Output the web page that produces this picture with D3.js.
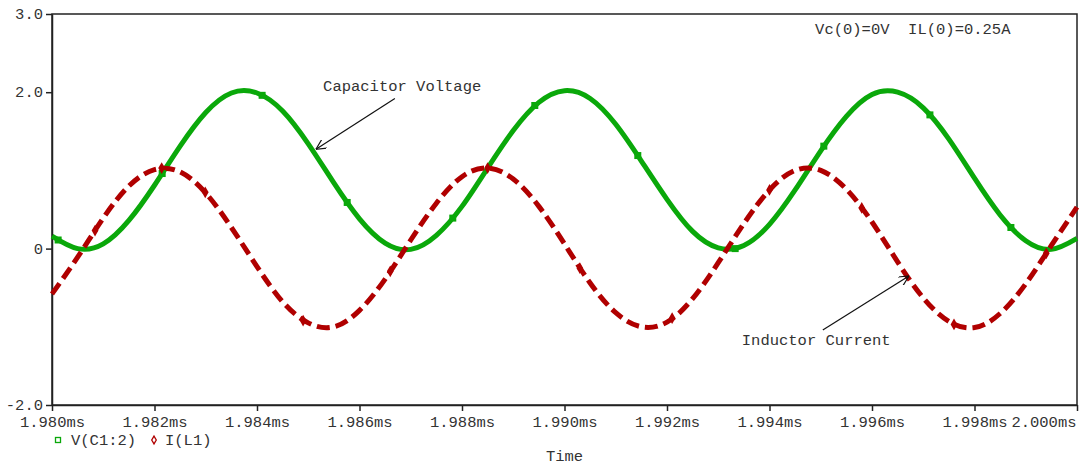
<!DOCTYPE html>
<html>
<head>
<meta charset="utf-8">
<script src="https://cdn.jsdelivr.net/npm/d3@7"></script>
<style>
    body { margin: 0; background: #fff; }
    svg text { font-family: "Liberation Mono", "DejaVu Sans Mono", monospace; font-size: 15.5px; fill: #333; white-space: pre; }
</style>
</head>
<body>
<div id="chart"></div>
<script>
/*
    LC tank transient: capacitor voltage and inductor current (PSpice style plot)
 */

// sample times in ms
var times = [1.9800, 1.9805, 1.9810, 1.9815, 1.9820, 1.9825, 1.9830, 1.9835, 1.9840, 1.9845,
    1.9850, 1.9855, 1.9860, 1.9865, 1.9870, 1.9875, 1.9880, 1.9885, 1.9890, 1.9895,
    1.9900, 1.9905, 1.9910, 1.9915, 1.9920, 1.9925, 1.9930, 1.9935, 1.9940, 1.9945,
    1.9950, 1.9955, 1.9960, 1.9965, 1.9970, 1.9975, 1.9980, 1.9985, 1.9990, 1.9995, 2.0000];

// V(C1:2)
var capVoltage = [0.16, 0.00, 0.06, 0.36, 0.81, 1.31, 1.74, 1.99, 1.99, 1.76,
    1.34, 0.84, 0.38, 0.07, -0.01, 0.17, 0.54, 1.03, 1.51, 1.87,
    2.02, 1.92, 1.59, 1.12, 0.63, 0.22, 0.01, 0.04, 0.31, 0.75,
    1.25, 1.69, 1.97, 2.00, 1.80, 1.40, 0.90, 0.43, 0.10, -0.01, 0.13];

// I(L1)
var indCurrent = [-0.58, -0.11, 0.39, 0.80, 1.01, 0.98, 0.71, 0.27, -0.23, -0.68,
    -0.95, -1.00, -0.79, -0.39, 0.11, 0.58, 0.92, 1.03, 0.89, 0.54,
    0.06, -0.44, -0.82, -1.00, -0.94, -0.64, -0.18, 0.32, 0.75, 1.00,
    1.00, 0.76, 0.34, -0.17, -0.63, -0.93, -1.01, -0.83, -0.45, 0.04, 0.53];

// simulation points marked on the traces
var vMarkTimes = [1.98012, 1.98215, 1.98410, 1.98576, 1.98782, 1.98942, 1.99143, 1.99333, 1.99506, 1.99713, 1.99871];
var vMarkValues = [0.11, 0.96, 1.96, 0.59, 0.39, 1.83, 1.19, 0.00, 1.31, 1.71, 0.27];
var iMarkTimes = [1.98084, 1.98214, 1.98299, 1.98490, 1.98660, 1.98850, 1.99030, 1.99210, 1.99400, 1.99580, 1.99760, 1.99940];
var iMarkValues = [0.23, 1.03, 0.72, -0.92, -0.29, 1.03, -0.25, -0.89, 0.75, 0.52, -0.97, -0.06];

var xTicks = [1.980, 1.982, 1.984, 1.986, 1.988, 1.990, 1.992, 1.994, 1.996, 1.998, 2.000];
var yTicks = [3.0, 2.0, 0, -2.0];
var yTickLabels = ["3.0", "2.0", "0", "-2.0"];

class LCPlot {
    constructor() {
        var self = this;
        self.width = 1081;
        self.height = 468;
        self.margin = {top: 14, right: 4, bottom: 63, left: 52};
        self.init();
    }

    init() {
        var self = this;
        self.plotW = self.width - self.margin.left - self.margin.right;
        self.plotH = self.height - self.margin.top - self.margin.bottom;

        self.svg = d3.select("#chart").append("svg")
            .attr("width", self.width)
            .attr("height", self.height);

        self.xScale = d3.scaleLinear()
            .domain([1.980, 2.000])
            .range([self.margin.left, self.margin.left + self.plotW]);

        self.yScale = d3.scaleLinear()
            .domain([-2, 3])
            .range([self.margin.top + self.plotH, self.margin.top]);

        // arrow head for the annotations
        self.svg.append("defs").append("marker")
            .attr("id", "arrow")
            .attr("viewBox", "0 0 10 10")
            .attr("refX", 10)
            .attr("refY", 5)
            .attr("markerWidth", 10)
            .attr("markerHeight", 10)
            .attr("markerUnits", "userSpaceOnUse")
            .attr("orient", "auto")
            .append("path")
            .attr("d", "M0,0 L10,5 L0,10")
            .attr("fill", "none")
            .attr("stroke", "#111")
            .attr("stroke-width", 1.2);

        self.drawAxes();
        self.drawTraces();
        self.drawText();
    }

    drawAxes() {
        var self = this;

        var xAxis = d3.axisBottom(self.xScale)
            .tickValues(xTicks)
            .tickSize(6)
            .tickSizeOuter(0)
            .tickPadding(5)
            .tickFormat(function(d) { return d3.format(".3f")(d) + "ms"; });

        var yAxis = d3.axisLeft(self.yScale)
            .tickValues(yTicks)
            .tickSize(6)
            .tickSizeOuter(0)
            .tickPadding(3)
            .tickFormat(function(d, i) { return yTickLabels[i]; });

        var gx = self.svg.append("g")
            .attr("class", "x-axis")
            .attr("transform", "translate(0," + (self.margin.top + self.plotH) + ")")
            .call(xAxis);

        var gy = self.svg.append("g")
            .attr("class", "y-axis")
            .attr("transform", "translate(" + self.margin.left + ",0)")
            .call(yAxis);

        [gx, gy].forEach(function(g) {
            g.selectAll("path, line").attr("stroke", "#222").attr("stroke-width", 1.5);
            g.selectAll("text").attr("fill", "#333").style("font-size", "15.5px")
                .style("font-family", "'Liberation Mono', monospace");
        });

        // last label would run off the page, keep it inside like the original
        gx.selectAll(".tick text")
            .filter(function(d) { return d === 2.000; })
            .attr("text-anchor", "end")
            .attr("dx", "-1");

        gx.selectAll(".tick text").attr("dy", "0.68em");
        gy.selectAll(".tick text").attr("dy", "0.3em");

        // top and right edges of the frame
        self.svg.append("rect")
            .attr("x", self.margin.left)
            .attr("y", self.margin.top)
            .attr("width", self.plotW)
            .attr("height", self.plotH)
            .attr("fill", "none")
            .attr("stroke", "#222")
            .attr("stroke-width", 1.5);
    }

    drawTraces() {
        var self = this;

        var vData = times.map(function(t, i) { return {t: t, v: capVoltage[i]}; });
        var iData = times.map(function(t, i) { return {t: t, v: indCurrent[i]}; });

        var line = d3.line()
            .x(function(d) { return self.xScale(d.t); })
            .y(function(d) { return self.yScale(d.v); })
            .curve(d3.curveNatural);

        self.svg.append("path")
            .datum(vData)
            .attr("class", "vTrace")
            .attr("d", line)
            .attr("fill", "none")
            .attr("stroke", "#0aa80a")
            .attr("stroke-width", 5);

        self.svg.append("path")
            .datum(iData)
            .attr("class", "iTrace")
            .attr("d", line)
            .attr("fill", "none")
            .attr("stroke", "#b00000")
            .attr("stroke-width", 5)
            .attr("stroke-dasharray", "13,6");

        // little point markers
        self.svg.selectAll(".vMark")
            .data(vMarkTimes)
            .enter().append("rect")
            .attr("class", "vMark")
            .attr("x", function(d) { return self.xScale(d) - 3.5; })
            .attr("y", function(d, i) { return self.yScale(vMarkValues[i]) - 3.5; })
            .attr("width", 7)
            .attr("height", 7)
            .attr("fill", "#0aa80a");

        self.svg.selectAll(".iMark")
            .data(iMarkTimes)
            .enter().append("path")
            .attr("class", "iMark")
            .attr("d", d3.symbol().type(d3.symbolDiamond).size(40))
            .attr("transform", function(d, i) {
                return "translate(" + self.xScale(d) + "," + self.yScale(iMarkValues[i]) + ")";
            })
            .attr("fill", "#b00000");
    }

    drawText() {
        var self = this;

        // annotations, positions in data units (ms, value)
        var notes = [
            {text: "Capacitor Voltage", tx: 1.98529, ty: 2.02, x1: 1.98669, y1: 1.92, x2: 1.98515, y2: 1.27},
            {text: "Inductor Current", tx: 1.99346, ty: -1.23, x1: 1.99504, y1: -1.04, x2: 1.99672, y2: -0.35}
        ];

        notes.forEach(function(n) {
            self.svg.append("text")
                .attr("x", self.xScale(n.tx))
                .attr("y", self.yScale(n.ty))
                .text(n.text);
            self.svg.append("line")
                .attr("x1", self.xScale(n.x1))
                .attr("y1", self.yScale(n.y1))
                .attr("x2", self.xScale(n.x2))
                .attr("y2", self.yScale(n.y2))
                .attr("stroke", "#111")
                .attr("stroke-width", 1.2)
                .attr("marker-end", "url(#arrow)");
        });

        self.svg.append("text")
            .attr("x", self.xScale(1.99489))
            .attr("y", self.yScale(2.745))
            .attr("xml:space", "preserve")
            .text("Vc(0)=0V  IL(0)=0.25A");

        // legend
        var legY = 440;
        self.svg.append("rect")
            .attr("x", 55.5).attr("y", legY - 2.5)
            .attr("width", 5).attr("height", 5)
            .attr("fill", "none")
            .attr("stroke", "#0aa80a")
            .attr("stroke-width", 1.3);
        self.svg.append("text")
            .attr("x", 71).attr("y", legY + 4.5)
            .text("V(C1:2)");

        self.svg.append("path")
            .attr("d", d3.symbol().type(d3.symbolDiamond).size(18))
            .attr("transform", "translate(154," + legY + ")")
            .attr("fill", "none")
            .attr("stroke", "#b00000")
            .attr("stroke-width", 1.3);
        self.svg.append("text")
            .attr("x", 165).attr("y", legY + 4.5)
            .text("I(L1)");

        self.svg.append("text")
            .attr("x", self.margin.left + self.plotW / 2)
            .attr("y", 461)
            .attr("text-anchor", "middle")
            .text("Time");
    }
}

var plot = new LCPlot();
</script>
</body>
</html>
